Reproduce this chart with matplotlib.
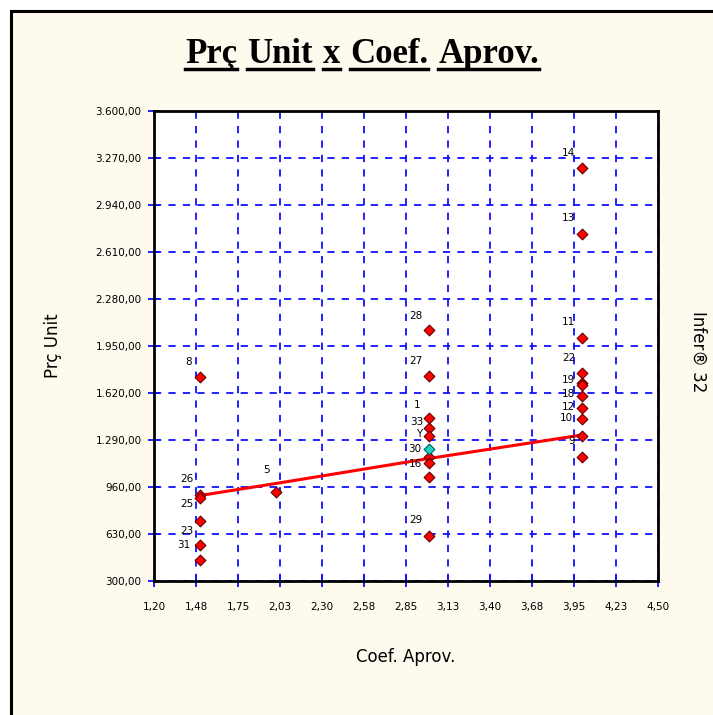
import matplotlib.pyplot as plt
from matplotlib.patches import Rectangle
from matplotlib.ticker import FixedLocator, FuncFormatter
import numpy as np

# sample points (Coef. Aprov., Prc Unit) with their labels
coef = [1.50, 1.50, 1.50, 1.50, 1.50, 1.50,
        2.00,
        3.00, 3.00, 3.00, 3.00, 3.00, 3.00, 3.00, 3.00, 3.00,
        4.00, 4.00, 4.00, 4.00, 4.00, 4.00, 4.00, 4.00, 4.00, 4.00, 4.00]
prc = [1735, 905, 880, 720, 553, 447,
       925,
       2062, 1739, 1444, 1374, 1318, 1170, 1128, 1030, 616,
       3200, 2736, 2006, 1760, 1690, 1675, 1599, 1515, 1437, 1318, 1170]
lbl = ["8", "26", "25", "23", "31", "",
       "5",
       "28", "27", "1", "33", "Y", "", "16", "", "29",
       "14", "13", "11", "22", "19", "", "18", "12", "10", "9", ""]

# evaluated point (teal)
aval_x = [3.00]
aval_y = [1225]
aval_lbl = ["30"]

# regression line
reg_x = [1.50, 2.00, 3.00, 4.00]
reg_y = [900, 985, 1160, 1325]

xticks = [1.20, 1.475, 1.75, 2.025, 2.30, 2.575, 2.85, 3.125, 3.40, 3.675, 3.95, 4.225, 4.50]
yticks = [300, 630, 960, 1290, 1620, 1950, 2280, 2610, 2940, 3270, 3600]

cream = "#FFFAEE"
W, H = 713, 715

# where each label sits relative to its point (pixels)
label_offset = {"8": (-11, 15), "26": (-13, 16), "25": (-13, -6), "23": (-13, -10),
                "31": (-16, 0), "5": (-10, 22), "28": (-13, 14), "27": (-13, 15),
                "1": (-12, 13), "33": (-12, 6), "Y": (-10, 2), "30": (-14, 0),
                "16": (-13, -1), "29": (-13, 16), "14": (-13, 15), "13": (-13, 16),
                "11": (-13, 16), "22": (-13, 15), "19": (-13, 3), "18": (-13, 2),
                "12": (-13, 1), "10": (-15, 1), "9": (-10, -5)}


def fmt_br(v, pos=None):
    s = f"{v:,.2f}"
    return s.replace(",", "X").replace(".", ",").replace("X", ".")


fig = plt.figure(figsize=(W / 100, H / 100), dpi=100)
fig.patch.set_facecolor(cream)
# white margins left and top, with a black border line
fig.add_artist(Rectangle((0, 0), 10 / W, 1, transform=fig.transFigure,
                         facecolor="white", edgecolor="none", zorder=-5))
fig.add_artist(Rectangle((0, 1 - 10 / H), 1, 10 / H, transform=fig.transFigure,
                         facecolor="white", edgecolor="none", zorder=-5))
fig.add_artist(plt.Line2D([11 / W, 11 / W], [0, 1 - 11 / H], color="black", lw=2.2))
fig.add_artist(plt.Line2D([11 / W, 1], [1 - 11 / H, 1 - 11 / H], color="black", lw=2.2))

ax = fig.add_axes([154 / W, 1 - 581 / H, 504 / W, 470 / H])
ax.set_facecolor("white")
ax.set_xlim(1.20, 4.50)
ax.set_ylim(300, 3600)
ax.xaxis.set_major_locator(FixedLocator(xticks))
ax.yaxis.set_major_locator(FixedLocator(yticks))
ax.xaxis.set_major_formatter(FuncFormatter(lambda v, p: fmt_br(round(v + 1e-9, 2))))
ax.yaxis.set_major_formatter(FuncFormatter(fmt_br))
ax.grid(True, color="#1010FF", linestyle=(0, (4, 4)), linewidth=1.3)
ax.set_axisbelow(True)
for s in ax.spines.values():
    s.set_color("black")
    s.set_linewidth(2)
ax.tick_params(axis="both", direction="inout", length=8, width=1.3, color="#1010FF",
               labelsize=7.5, pad=5)
ax.tick_params(axis="x", pad=11)

ax.plot(reg_x, reg_y, color="#FF0000", lw=2.2, zorder=3)
ax.scatter(coef, prc, marker="D", s=30, facecolor="#FF0000", edgecolor="#600000",
           linewidth=0.8, zorder=4)
ax.scatter(aval_x, aval_y, marker="D", s=30, facecolor="#20D0C0", edgecolor="#006060",
           linewidth=0.8, zorder=5)

for x, y, t in list(zip(coef, prc, lbl)) + list(zip(aval_x, aval_y, aval_lbl)):
    if t:
        dx, dy = label_offset[t]
        ax.annotate(t, (x, y), xytext=(dx, dy), textcoords="offset pixels",
                    ha="center", va="center", fontsize=7.5, color="black", zorder=6)

ax.set_xlabel("Coef. Aprov.", fontsize=12, labelpad=26)
ax.set_ylabel("Prç Unit", fontsize=12, labelpad=24)

fig.text(698 / W, 1 - 352 / H, "Infer® 32", rotation=-90, ha="center", va="center",
         fontsize=12)

# title words, each underlined
words = ["Prç", "Unit", "x", "Coef.", "Aprov."]
fig.canvas.draw()
renderer = fig.canvas.get_renderer()
tprops = dict(fontsize=25, fontweight="bold", family="Liberation Serif")
widths = []
for w in words:
    t = fig.text(0, 0, w, **tprops)
    widths.append(t.get_window_extent(renderer).width)
    t.remove()
space = 10
total = sum(widths) + space * (len(words) - 1)
x0 = 362 - total / 2
ybase = H - 63
for w, wd in zip(words, widths):
    fig.text(x0 / W, ybase / H, w, ha="left", va="baseline", **tprops)
    fig.add_artist(plt.Line2D([x0 / W, (x0 + wd) / W], [(ybase - 6) / H, (ybase - 6) / H],
                              color="black", lw=2.5))
    x0 += wd + space

fig.savefig("out.png", dpi=100, facecolor=fig.get_facecolor())
